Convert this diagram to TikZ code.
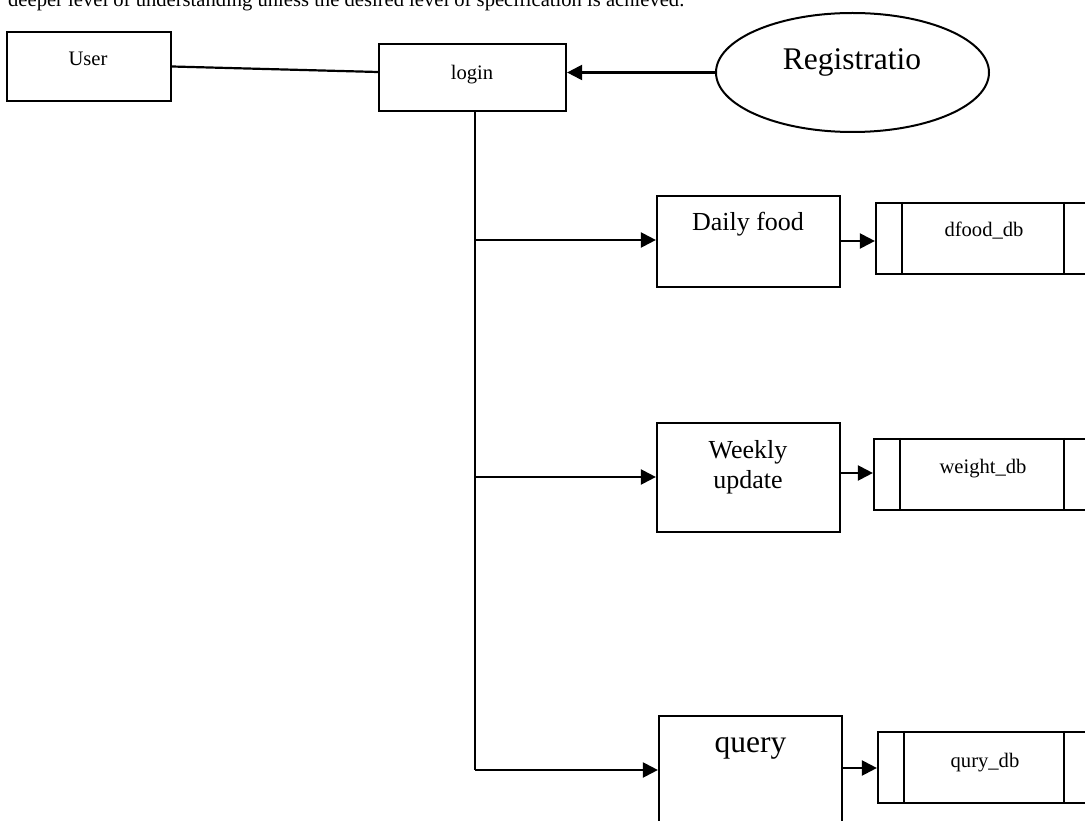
\documentclass[tikz,border=0pt]{standalone}
\usepackage{fontspec}
\setmainfont{Liberation Serif}
\usetikzlibrary{arrows.meta,shapes.geometric,calc}
\tikzset{
  boxx/.style={draw, line width=2.2pt, rectangle, inner sep=0pt},
  ell/.style={draw, line width=2pt, ellipse, inner sep=0pt},
  conn/.style={line width=2.2pt},
  arr/.style={line width=2.2pt, -{Triangle[length=15pt,width=15pt]}},
  small/.style={font=\fontsize{20.6}{24}\selectfont},
  mid/.style={font=\fontsize{26}{30}\selectfont},
  big/.style={font=\fontsize{31.5}{36}\selectfont},
}
\begin{document}
\begin{tikzpicture}[x=1pt,y=1pt]
\useasboundingbox (0,0) rectangle (1085,-821);
% cut-off text line
\node[small, anchor=base west, inner sep=0pt] (toptext) at (8,-7) {deeper level of understanding unless the desired level of specification is achieved.};
% user
\node[boxx, minimum width=164pt, minimum height=69pt] (user) at (89,-66.5) {};
\node[small, anchor=base] (usert) at (88,-66) {User};
% login
\node[boxx, minimum width=187pt, minimum height=67pt] (login) at (472.5,-77.5) {};
\node[small, anchor=base] (logint) at (472,-80) {login};
% registration
\node[ell, minimum width=273pt, minimum height=119pt] (reg) at (852.5,-72.5) {};
\node[big, anchor=base] (regt) at (852,-70) {Registratio};
% processes
\node[boxx, minimum width=183pt, minimum height=91pt] (daily) at (748.5,-241.5) {};
\node[mid, anchor=base] (dailyt) at (748,-231) {Daily food};
\node[boxx, minimum width=183pt, minimum height=109pt] (weekly) at (748.5,-477.5) {};
\node[mid, anchor=base, align=center] (weeklyt) at (748,-488) {Weekly\\update};
\node[boxx, minimum width=183pt, minimum height=160pt] (query) at (750.5,-796) {};
\node[big, anchor=base] (queryt) at (750.5,-752) {query};
% data stores
\node[boxx, minimum width=224pt, minimum height=71pt] (dfood) at (988,-238.5) {};
\draw[conn] ([xshift=27pt]dfood.north west) -- ([xshift=27pt]dfood.south west);
\draw[conn] ([xshift=189pt]dfood.north west) -- ([xshift=189pt]dfood.south west);
\node[small, anchor=base] (dfoodt) at (984,-237) {dfood\_db};
\node[boxx, minimum width=226pt, minimum height=71pt] (weight) at (987,-474.5) {};
\draw[conn] ([xshift=27pt]weight.north west) -- ([xshift=27pt]weight.south west);
\draw[conn] ([xshift=191pt]weight.north west) -- ([xshift=191pt]weight.south west);
\node[small, anchor=base] (weightt) at (983,-473) {weight\_db};
\node[boxx, minimum width=222pt, minimum height=71pt] (qury) at (989,-767.5) {};
\draw[conn] ([xshift=27pt]qury.north west) -- ([xshift=27pt]qury.south west);
\draw[conn] ([xshift=187pt]qury.north west) -- ([xshift=187pt]qury.south west);
\node[small, anchor=base] (quryt) at (985,-767) {qury\_db};
% connectors
\draw[conn] (user.east) -- ($(login.west)+(0,5.5)$);
\draw[arr] (reg.west) -- (reg.west -| login.east);
\coordinate (ttop) at (login.south -| 475,0);
\coordinate (tbot) at (475,-770);
\draw[conn] (ttop) -- (tbot);
\draw[arr] (ttop |- 0,-240) -- (daily.west |- 0,-240);
\draw[arr] (ttop |- 0,-477) -- (weekly.west |- 0,-477);
\draw[arr] (tbot) -- (tbot -| query.west);
\draw[arr] (daily.east |- 0,-241) -- (dfood.west |- 0,-241);
\draw[arr] (weekly.east |- 0,-473) -- (weight.west |- 0,-473);
\draw[arr] (query.east |- 0,-768) -- (qury.west |- 0,-768);
\end{tikzpicture}
\end{document}
